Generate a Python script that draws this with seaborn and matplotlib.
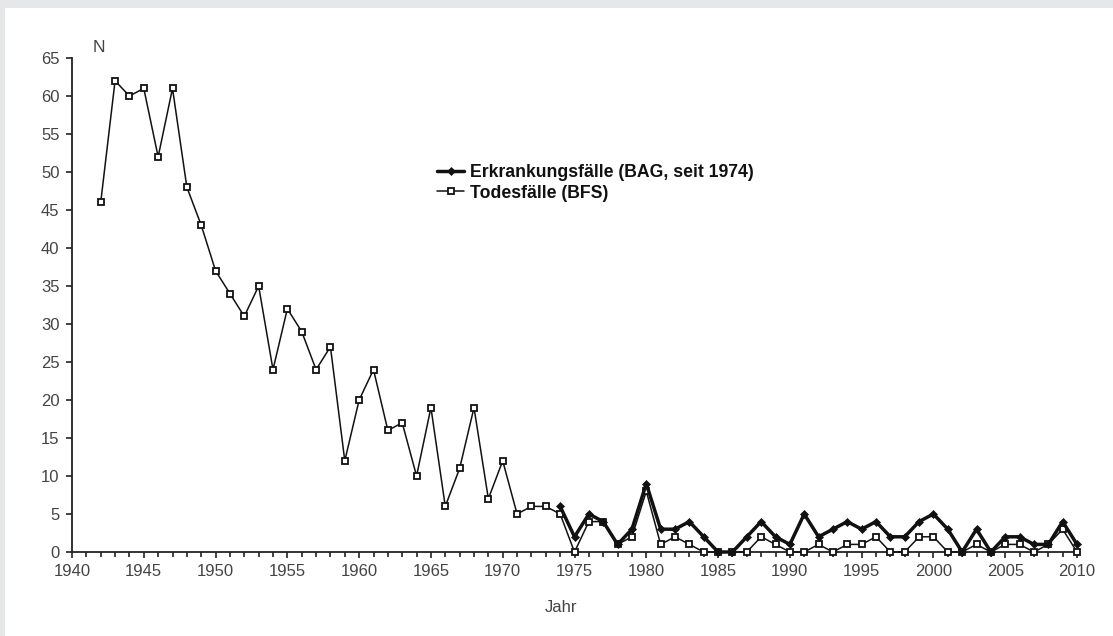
import numpy as np
import pandas as pd
import matplotlib
matplotlib.use('Agg')
import matplotlib.pyplot as plt
from matplotlib.ticker import MultipleLocator
from matplotlib.patches import Rectangle
import seaborn as sns

sns.set_style('ticks')
plt.rcParams['font.family'] = ['Liberation Sans', 'DejaVu Sans']

# Todesfälle (BFS), 1942-2010
tod_years = list(range(1942, 2011))
tod_values = [46, 62, 60, 61, 52, 61, 48, 43, 37, 34,
              31, 35, 24, 32, 29, 24, 27, 12, 20, 24,
              16, 17, 10, 19, 6, 11, 19, 7, 12, 5,
              6, 6, 5, 0, 4, 4, 1, 2, 8, 1,
              2, 1, 0, 0, 0, 0, 2, 1, 0, 0,
              1, 0, 1, 1, 2, 0, 0, 2, 2, 0,
              0, 1, 0, 1, 1, 0, 1, 3, 0]

# Erkrankungsfälle (BAG, seit 1974)
bag_years = list(range(1974, 2011))
bag_values = [6, 2, 5, 4, 1, 3, 9, 3, 3, 4,
              2, 0, 0, 2, 4, 2, 1, 5, 2, 3,
              4, 3, 4, 2, 2, 4, 5, 3, 0, 3,
              0, 2, 2, 1, 1, 4, 1]

tod = pd.DataFrame({'Jahr': tod_years, 'N': tod_values})
bag = pd.DataFrame({'Jahr': bag_years, 'N': bag_values})

W, H = 1113, 636
fig = plt.figure(figsize=(W / 100, H / 100), dpi=100)
fig.patch.set_facecolor('#e6e7e9')
fig.add_artist(Rectangle((5 / W, 0), 1 - 5 / W, 1 - 8 / H, transform=fig.transFigure,
                         facecolor='white', edgecolor='none', zorder=-10))

ax = fig.add_axes([72 / W, 1 - 552 / H, (1077 - 72) / W, (552 - 58) / H])

sns.lineplot(data=tod, x='Jahr', y='N', ax=ax, color='#111111', linewidth=1.1,
             marker='s', markersize=4.6, markerfacecolor='white',
             markeredgecolor='#111111', markeredgewidth=1.3,
             label='Todesfälle (BFS)', zorder=3, clip_on=False)
sns.lineplot(data=bag, x='Jahr', y='N', ax=ax, color='#111111', linewidth=2.5,
             marker='D', markersize=4.5, markerfacecolor='#111111',
             markeredgecolor='#111111', markeredgewidth=0.5,
             label='Erkrankungsfälle (BAG, seit 1974)', zorder=4, clip_on=False)

ax.set_xlim(1940, 2010)
ax.set_ylim(0, 65)
ax.set_xticks(range(1940, 2011, 5))
ax.set_yticks(range(0, 66, 5))
ax.xaxis.set_minor_locator(MultipleLocator(1))
ax.tick_params(axis='both', which='major', direction='out', length=4, width=1.2,
               labelsize=12, colors='#222222', labelcolor='#444444', pad=5)
ax.tick_params(axis='x', which='minor', direction='out', length=3.5, width=1.2,
               colors='#222222')
for s in ['top', 'right']:
    ax.spines[s].set_visible(False)
for s in ['left', 'bottom']:
    ax.spines[s].set_linewidth(1.3)
    ax.spines[s].set_color('#222222')

ax.set_xlabel('')
ax.set_ylabel('')
ax.text((99 - 72) / (1077 - 72), (552 - 47) / (552 - 58), 'N', transform=ax.transAxes,
        ha='center', va='center', fontsize=12.5, color='#444444')
fig.text(561 / W, 1 - 607 / H, 'Jahr', ha='center', va='center', fontsize=12, color='#444444')

handles, labels = ax.get_legend_handles_labels()
leg = ax.legend(handles[::-1], labels[::-1], loc='upper left',
                bbox_to_anchor=(437 / W, 1 - 164 / H), bbox_transform=fig.transFigure,
                frameon=False, handlelength=1.55, handletextpad=0.3, labelspacing=0.2,
                borderpad=0, borderaxespad=0, prop={'weight': 'bold', 'size': 12.7})
for t in leg.get_texts():
    t.set_color('#111111')

fig.savefig('out.png', dpi=100, facecolor=fig.get_facecolor())
